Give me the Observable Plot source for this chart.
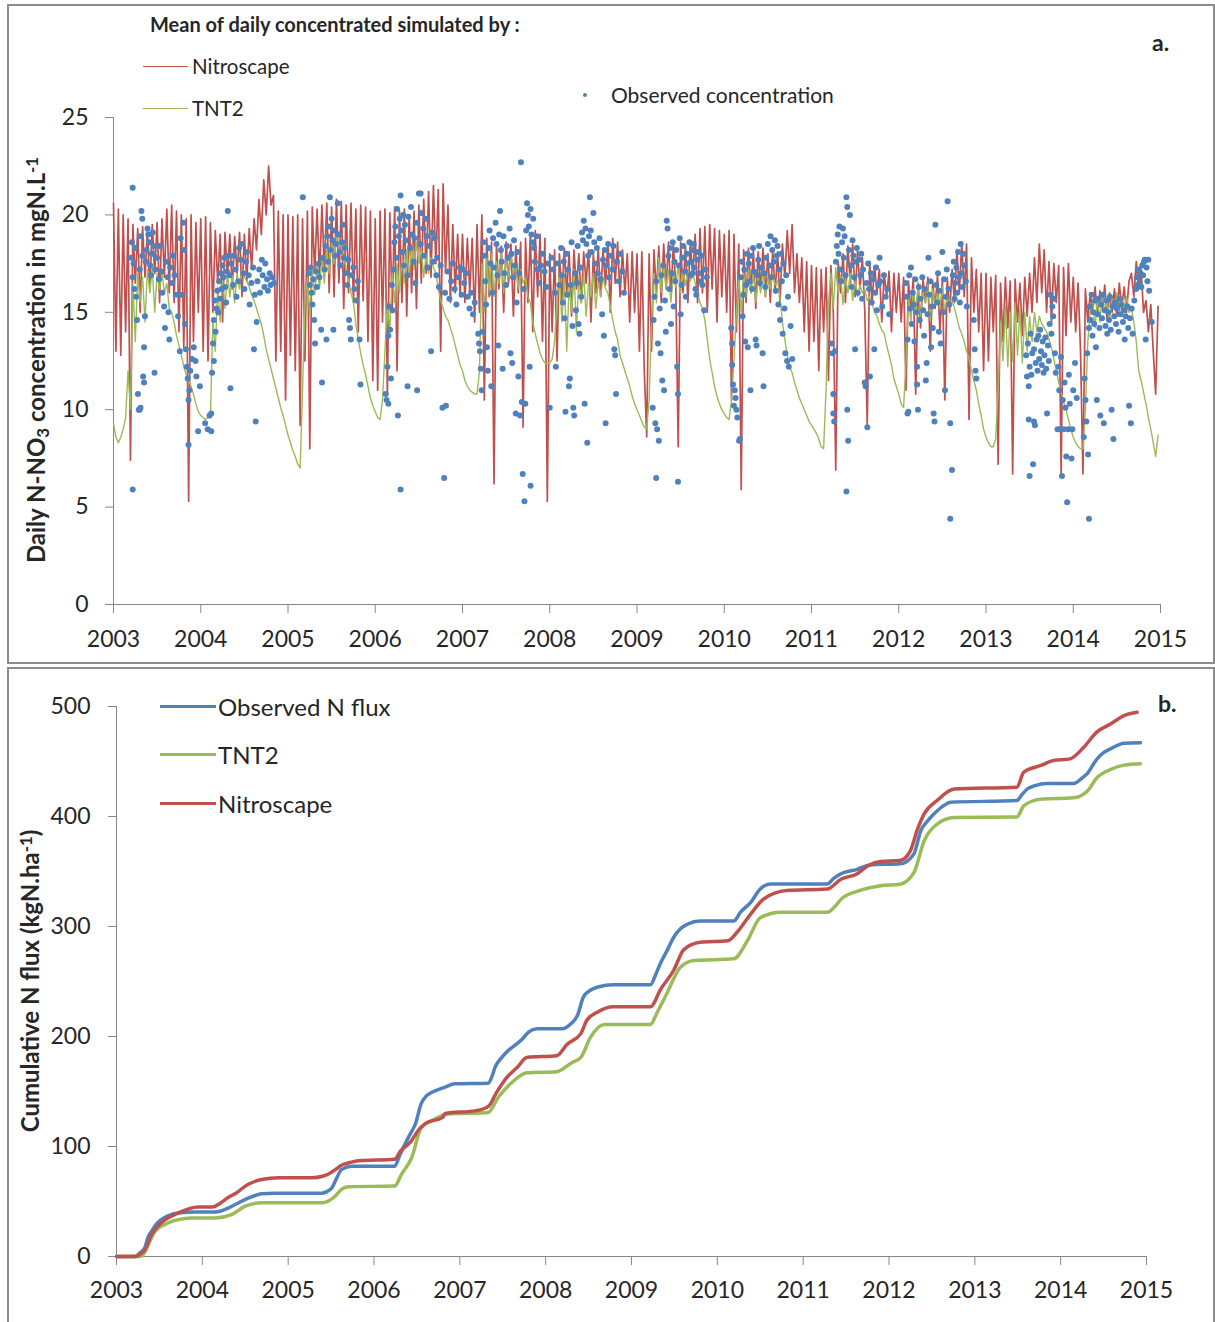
<!DOCTYPE html>
<html><head><meta charset="utf-8">
<script src="https://cdn.jsdelivr.net/npm/d3@7"></script>
<script src="https://cdn.jsdelivr.net/npm/@observablehq/plot@0.6"></script>
<style>
html,body{margin:0;padding:0;background:#fff;}
#page{position:relative;width:1215px;height:1322px;overflow:hidden;background:#fff;font-family:Lato,"Open Sans",sans-serif;color:#262626;}
.box{position:absolute;box-sizing:border-box;border:2px solid #8c8c8c;}
.abs{position:absolute;white-space:nowrap;line-height:1;transform:translateY(-50%);}
.sw{position:absolute;height:0;}
.ytitle{position:absolute;white-space:nowrap;font-weight:bold;font-size:24px;line-height:1;transform:translate(-50%,-50%) rotate(-90deg);}
.sub{font-size:0.7em;vertical-align:-0.25em;}
.sup{font-size:0.7em;vertical-align:0.45em;}
#pa,#pb{position:absolute;left:0;}
</style></head>
<body>
<div id="page">
  <div class="box" style="left:7px;top:4px;width:1208px;height:660px"></div>
  <div class="box" style="left:7px;top:667px;width:1208px;height:670px"></div>
  <div id="pa" style="top:0"></div>
  <div id="pb" style="top:668px"></div>

  <div class="abs" style="left:150px;top:24px;font-weight:bold;font-size:20px">Mean of daily concentrated simulated by :</div>
  <div class="sw" style="left:143px;top:66px;width:45px;border-top:1.5px solid #C0504D"></div>
  <div class="abs" style="left:192px;top:66px;font-size:20.5px">Nitroscape</div>
  <div class="sw" style="left:143px;top:108px;width:45px;border-top:1.5px solid #9BBB59"></div>
  <div class="abs" style="left:192px;top:108px;font-size:20.5px">TNT2</div>
  <div style="position:absolute;left:583px;top:93px;width:4px;height:4px;border-radius:2px;background:#4F81BD"></div>
  <div class="abs" style="left:611px;top:94px;font-size:21px">Observed concentration</div>
  <div class="abs" style="left:1152px;top:42px;font-weight:bold;font-size:23px">a.</div>
  <div class="ytitle" style="left:38px;top:360px">Daily N-NO<span class="sub">3</span> concentration in mgN.L<span class="sup">-1</span></div>

  <div class="sw" style="left:160px;top:705px;width:56px;border-top:3.5px solid #4F81BD"></div>
  <div class="abs" style="left:218px;top:707px;font-size:24px">Observed N flux</div>
  <div class="sw" style="left:160px;top:753px;width:56px;border-top:3.5px solid #9BBB59"></div>
  <div class="abs" style="left:218px;top:755px;font-size:24px">TNT2</div>
  <div class="sw" style="left:160px;top:802px;width:56px;border-top:3.5px solid #C0504D"></div>
  <div class="abs" style="left:218px;top:804px;font-size:24px">Nitroscape</div>
  <div class="abs" style="left:1158px;top:703px;font-weight:bold;font-size:23px">b.</div>
  <div class="ytitle" style="left:30px;top:981px">Cumulative N flux (kgN.ha<span class="sup">-1</span>)</div>
</div>
<script>
// ---------- Panel a: daily concentrations (values every ~10 days, 36 per year) ----------
const years = [2003,2004,2005,2006,2007,2008,2009,2010,2011,2012,2013,2014];
const xTicks = [2003,2004,2005,2006,2007,2008,2009,2010,2011,2012,2013,2014,2015];
const yTicksA = [0,5,10,15,20,25];
const yTicksB = [0,100,200,300,400,500];

const nitro2003 = [20.6,13.0,20.3,12.8,20.0,14.0,19.8,7.4,19.5,16.5,19.3,15.0,19.4,16.8,19.2,16.2,19.5,17.0,19.6,15.5,19.8,16.8,20.3,16.0,20.5,15.5,20.2,14.0,20.0,13.2,19.8,5.3,20.0,13.5,19.6,15.0];
const nitro2004 = [19.8,13.0,19.9,12.5,19.6,15.0,19.2,16.5,19.0,14.5,19.1,16.8,19.0,16.2,18.9,17.0,19.1,15.8,19.0,16.6,19.3,17.2,19.8,18.2,20.8,19.0,21.8,20.0,22.5,20.5,21.0,12.5,20.2,13.0,20.0,10.5];
const nitro2005 = [20.0,12.8,19.9,12.0,20.0,9.2,19.8,12.5,20.2,8.0,20.4,17.0,20.3,16.8,20.5,17.2,20.6,16.0,20.4,15.8,20.8,16.5,20.7,15.2,20.5,16.0,20.6,15.5,20.3,14.0,20.5,15.6,20.4,13.5,20.2,11.5];
const nitro2006 = [19.8,11.0,20.2,14.5,20.3,10.8,20.1,15.0,20.4,12.0,20.2,15.5,20.3,14.8,20.0,16.0,20.2,15.2,20.5,16.5,20.8,17.0,21.2,16.8,21.5,17.5,21.3,13.0,21.6,17.0,20.5,15.5,19.5,16.0,19.0,15.8];
const nitro2007 = [19.0,15.5,18.8,16.0,18.8,14.5,19.5,15.0,20.0,10.5,18.8,15.8,18.6,6.2,18.5,16.2,18.4,15.0,18.6,16.5,18.5,14.8,18.4,16.0,18.6,9.1,18.8,15.5,19.0,14.0,19.2,15.8,19.0,13.5,18.8,5.3];
const nitro2008 = [18.0,14.0,18.2,12.5,18.0,15.5,18.3,16.0,18.1,14.8,18.2,16.2,18.0,15.5,18.1,16.5,18.2,14.5,18.0,16.0,18.3,15.8,18.2,16.4,18.6,15.0,18.8,16.5,18.6,15.8,18.2,16.0,18.0,14.5,18.1,15.0];
const nitro2009 = [18.0,13.0,18.1,12.0,8.6,18.0,13.0,18.2,16.0,18.4,15.5,18.5,16.2,18.6,15.8,18.5,16.4,8.1,18.6,16.0,18.4,15.5,18.6,16.8,19.0,15.5,19.3,16.0,19.4,15.0,19.5,16.2,19.3,14.5,19.2,15.8];
const nitro2010 = [19.0,15.0,19.2,10.5,19.0,14.0,18.5,5.9,18.2,15.5,18.3,16.0,18.2,15.2,18.1,16.2,18.3,15.8,18.0,15.5,18.2,16.0,18.1,15.4,18.5,16.8,19.2,17.0,19.5,16.0,18.0,15.5,17.8,14.0,17.6,13.0];
const nitro2011 = [17.4,13.5,17.3,12.0,17.2,14.0,17.3,11.5,17.4,15.0,6.9,17.6,16.0,18.0,15.5,18.4,16.5,18.5,15.8,18.2,16.2,17.8,15.0,9.2,17.6,15.5,17.4,16.0,17.2,14.5,17.0,15.8,17.1,14.0,17.0,15.0];
const nitro2012 = [17.0,14.5,16.8,11.0,16.6,15.0,16.8,10.8,16.5,14.2,16.7,15.5,16.8,13.0,16.6,15.2,16.9,14.0,16.7,10.5,16.8,15.0,17.2,15.5,18.2,16.0,18.6,15.8,18.5,9.5,17.8,15.0,17.2,14.0,17.0,12.0];
const nitro2013 = [17.0,12.5,16.8,14.0,16.9,7.2,16.5,13.5,16.8,14.2,16.6,6.7,16.7,14.5,16.5,13.8,16.8,14.8,17.0,15.0,17.8,15.5,18.5,16.0,18.2,15.0,17.6,14.5,17.5,15.5,17.4,6.7,17.3,13.8,17.5,14.5];
const nitro2014 = [16.8,14.0,16.5,13.0,6.7,16.2,14.5,16.0,15.0,16.3,14.8,16.1,15.2,16.4,14.6,16.0,15.0,16.2,14.8,16.5,15.2,16.3,15.0,16.6,17.0,15.8,17.6,16.2,17.2,15.0,15.6,14.0,15.4,13.0,10.8,15.3];

const tnt2003 = [9.3,8.6,8.3,8.6,9.0,9.6,12.0,10.0,16.5,13.5,17.0,15.5,16.8,14.5,17.2,16.0,17.3,15.0,17.0,16.2,17.0,16.0,16.5,15.2,15.0,14.5,13.8,13.3,12.8,12.2,11.8,11.5,11.2,10.8,10.3,9.9];
const tnt2004 = [9.7,9.6,9.5,9.6,9.6,14.6,13.0,16.3,14.5,16.8,15.2,17.0,15.8,16.9,15.5,17.0,16.2,17.2,16.8,16.6,16.3,15.9,15.6,15.2,14.8,14.4,13.8,13.1,12.6,12.1,11.6,11.1,10.6,10.1,9.7,9.2];
const tnt2005 = [8.7,8.3,7.9,7.6,7.2,7.0,11.0,15.5,16.8,14.8,17.2,15.9,17.5,16.2,17.8,16.5,18.2,17.0,18.6,17.5,19.0,18.3,18.8,17.8,17.3,16.6,16.0,15.5,14.4,13.6,12.9,12.3,11.8,11.2,10.6,10.2];
const tnt2006 = [9.9,9.6,9.5,10.5,13.0,15.5,14.0,17.0,15.5,17.5,16.0,17.8,16.5,18.2,16.8,18.5,17.2,18.6,17.5,18.3,16.8,18.0,17.0,17.8,17.3,17.0,16.2,15.6,15.2,14.8,14.6,14.2,13.8,13.3,12.8,12.3];
const tnt2007 = [12.0,11.5,11.2,11.0,10.9,10.8,10.8,12.0,17.5,15.0,17.8,16.0,18.0,15.8,17.6,16.5,18.2,16.0,17.8,16.8,18.0,17.0,17.5,16.2,17.2,16.5,16.8,15.8,15.5,14.5,13.9,13.4,12.9,12.6,12.4,12.4];
const tnt2008 = [12.4,12.6,13.5,15.5,17.0,14.5,16.8,13.0,16.5,15.0,17.2,14.0,16.8,15.5,17.0,14.8,16.5,15.8,17.0,15.2,16.6,15.8,16.8,16.2,16.0,15.3,14.6,14.0,13.6,12.8,12.4,12.0,11.6,11.2,10.7,10.3];
const tnt2009 = [10.0,9.7,9.4,9.1,9.0,10.5,14.5,17.0,15.5,17.8,16.0,17.5,16.2,17.2,15.5,17.0,16.3,17.4,16.0,17.0,16.4,17.2,16.6,17.0,16.5,16.0,15.5,15.2,14.6,13.6,12.6,11.9,11.2,10.7,10.3,10.0];
const tnt2010 = [9.8,9.6,9.5,10.5,12.5,15.0,16.8,15.0,17.0,15.8,17.2,16.0,17.0,15.5,16.8,16.0,17.2,15.8,16.8,16.2,17.0,16.4,16.6,15.8,14.5,13.6,12.8,12.2,11.9,11.4,11.0,10.6,10.3,10.0,9.7,9.4];
const tnt2011 = [9.2,9.0,8.8,8.5,8.1,8.0,11.0,15.5,17.0,15.2,17.3,16.0,16.9,15.4,16.8,16.0,17.0,15.6,16.6,15.8,16.4,16.0,16.2,15.6,15.8,15.5,15.0,14.8,14.4,14.1,13.9,13.3,12.8,12.3,11.6,11.2];
const tnt2012 = [10.8,10.3,10.1,12.5,15.8,14.5,16.2,15.0,16.5,14.8,16.0,15.5,16.4,14.6,16.2,15.4,16.0,15.2,16.3,15.0,15.9,15.6,15.6,15.2,14.7,14.2,13.9,13.5,13.0,12.6,12.0,11.5,11.0,10.3,9.7,9.0];
const tnt2013 = [8.6,8.3,8.1,8.1,8.5,11.0,14.5,12.5,15.3,12.2,15.0,12.5,15.5,12.8,15.2,12.4,15.0,13.0,14.8,13.5,15.0,14.0,14.8,14.4,14.2,14.0,13.6,13.2,12.6,12.0,11.4,10.9,10.4,10.0,9.5,9.0];
const tnt2014 = [8.6,8.3,8.1,8.0,8.0,10.0,13.5,15.0,15.5,14.2,15.8,14.5,16.0,15.0,15.6,14.6,15.8,15.2,16.0,15.0,15.6,15.2,15.8,15.0,15.2,14.5,13.5,12.0,11.5,10.9,10.3,9.6,9.0,8.3,7.6,8.7];

// observed concentrations [decimal year, mgN/L]
const obs2003 = [[2003.20,17.8],[2003.21,18.6],[2003.22,21.4],[2003.22,5.9],[2003.22,16.8],[2003.23,17.5],[2003.24,16.2],[2003.25,18.3],[2003.26,15.8],[2003.27,14.6],[2003.28,10.8],[2003.29,10.0],[2003.30,10.0],[2003.31,10.1],[2003.30,17.2],[2003.31,18.9],[2003.32,20.2],[2003.33,19.8],[2003.33,17.9],[2003.34,11.7],[2003.35,11.4],[2003.35,13.2],[2003.36,14.8],[2003.37,17.6],[2003.38,18.2],[2003.39,19.3],[2003.40,19.0],[2003.41,18.6],[2003.42,17.4],[2003.43,16.9],[2003.44,18.0],[2003.45,19.1],[2003.46,18.4],[2003.47,11.9],[2003.48,17.2],[2003.50,17.8],[2003.52,16.7],[2003.53,18.4],[2003.55,17.1],[2003.56,16.0],[2003.58,15.3],[2003.59,14.2],[2003.60,17.6],[2003.62,16.8],[2003.63,15.0],[2003.64,13.6],[2003.65,17.3],[2003.67,16.5],[2003.68,17.9],[2003.70,16.9],[2003.72,15.9],[2003.74,14.8],[2003.76,13.0],[2003.77,18.8],[2003.78,15.9],[2003.80,19.6],[2003.81,18.2],[2003.82,14.4],[2003.83,13.1],[2003.84,12.2],[2003.85,11.6],[2003.86,8.2],[2003.86,10.5],[2003.87,11.0],[2003.88,12.0],[2003.90,12.6],[2003.92,13.2],[2003.94,12.5],[2003.95,11.7],[2003.97,8.9],[2003.99,11.2]];
const obs2004 = [[2004.05,9.3],[2004.08,9.0],[2004.10,9.7],[2004.12,8.9],[2004.12,9.8],[2004.13,11.9],[2004.14,13.4],[2004.15,14.6],[2004.15,12.5],[2004.16,15.6],[2004.17,14.0],[2004.18,15.2],[2004.19,16.1],[2004.20,15.0],[2004.21,16.6],[2004.22,15.7],[2004.23,17.0],[2004.24,16.2],[2004.25,17.4],[2004.26,16.8],[2004.27,17.8],[2004.28,16.3],[2004.29,15.5],[2004.30,17.1],[2004.31,20.2],[2004.32,17.9],[2004.33,16.9],[2004.34,11.1],[2004.35,17.5],[2004.37,16.4],[2004.38,17.9],[2004.40,17.2],[2004.41,15.8],[2004.43,16.6],[2004.44,18.3],[2004.46,17.7],[2004.47,18.5],[2004.49,17.0],[2004.50,16.2],[2004.52,17.6],[2004.53,18.1],[2004.55,16.9],[2004.56,15.4],[2004.58,16.5],[2004.60,17.3],[2004.61,13.1],[2004.62,15.9],[2004.63,9.4],[2004.64,14.5],[2004.65,16.6],[2004.67,17.2],[2004.68,16.0],[2004.70,17.7],[2004.71,16.9],[2004.73,16.3],[2004.74,17.5],[2004.76,16.7],[2004.77,16.1],[2004.79,17.0],[2004.80,16.4],[2004.82,16.8],[2004.84,16.5]];
const obs2005 = [[2005.17,20.9],[2005.24,17.0],[2005.25,16.4],[2005.26,17.3],[2005.27,16.0],[2005.28,15.4],[2005.29,16.7],[2005.30,14.6],[2005.31,13.4],[2005.32,17.1],[2005.33,16.3],[2005.35,17.5],[2005.36,16.8],[2005.38,14.1],[2005.39,11.4],[2005.40,17.8],[2005.42,17.2],[2005.43,18.4],[2005.44,13.6],[2005.45,18.9],[2005.46,17.6],[2005.47,19.4],[2005.48,20.9],[2005.49,18.2],[2005.50,19.8],[2005.51,18.7],[2005.52,14.1],[2005.53,19.2],[2005.54,17.9],[2005.55,18.5],[2005.57,20.6],[2005.58,19.0],[2005.59,18.1],[2005.60,17.4],[2005.62,18.6],[2005.63,19.5],[2005.64,17.8],[2005.65,18.3],[2005.66,17.0],[2005.68,16.4],[2005.69,17.7],[2005.70,14.6],[2005.71,14.2],[2005.72,13.6],[2005.73,16.9],[2005.75,17.3],[2005.76,16.2],[2005.78,15.6],[2005.80,16.6],[2005.82,13.6],[2005.83,11.3]];
const obs2006 = [[2006.12,10.8],[2006.13,10.5],[2006.14,12.2],[2006.15,13.8],[2006.15,10.3],[2006.16,15.3],[2006.17,14.1],[2006.18,11.6],[2006.19,16.4],[2006.20,15.1],[2006.21,17.2],[2006.22,18.6],[2006.23,19.4],[2006.24,17.8],[2006.25,20.3],[2006.26,9.7],[2006.27,18.9],[2006.28,19.8],[2006.29,21.0],[2006.29,5.9],[2006.30,19.2],[2006.31,18.1],[2006.32,20.0],[2006.33,17.4],[2006.34,19.5],[2006.35,18.7],[2006.37,11.2],[2006.37,16.9],[2006.38,19.9],[2006.40,18.3],[2006.41,20.4],[2006.42,19.0],[2006.44,17.6],[2006.45,18.8],[2006.46,16.5],[2006.48,11.0],[2006.48,19.6],[2006.50,21.1],[2006.52,21.1],[2006.52,18.5],[2006.53,20.1],[2006.55,19.3],[2006.56,17.9],[2006.58,19.8],[2006.59,18.9],[2006.60,17.3],[2006.62,18.4],[2006.64,13.0],[2006.65,19.1],[2006.66,17.6],[2006.68,18.8],[2006.70,16.9],[2006.71,17.8],[2006.73,16.3],[2006.75,17.4],[2006.77,10.1],[2006.79,6.5],[2006.80,16.0],[2006.81,10.2],[2006.83,17.1],[2006.85,15.7],[2006.87,16.6],[2006.89,17.5],[2006.91,16.2],[2006.93,15.4],[2006.95,16.8],[2006.97,17.3],[2006.99,15.9]];
const obs2007 = [[2007.00,17.2],[2007.02,16.5],[2007.04,17.0],[2007.06,15.8],[2007.08,15.2],[2007.10,16.0],[2007.12,14.9],[2007.14,15.5],[2007.18,13.9],[2007.19,13.4],[2007.20,13.0],[2007.21,12.1],[2007.22,11.0],[2007.23,14.0],[2007.24,18.6],[2007.25,17.9],[2007.26,16.6],[2007.27,15.4],[2007.28,13.2],[2007.29,12.0],[2007.30,18.3],[2007.31,19.2],[2007.32,17.5],[2007.33,11.2],[2007.34,16.0],[2007.35,18.8],[2007.36,17.3],[2007.38,19.6],[2007.39,18.5],[2007.40,16.9],[2007.41,13.3],[2007.42,19.0],[2007.43,20.2],[2007.44,18.2],[2007.45,17.6],[2007.46,12.1],[2007.47,18.9],[2007.48,17.0],[2007.50,16.4],[2007.51,18.4],[2007.52,17.8],[2007.54,19.3],[2007.55,12.9],[2007.56,18.0],[2007.57,12.4],[2007.58,16.8],[2007.59,18.7],[2007.60,17.4],[2007.61,9.8],[2007.62,15.5],[2007.63,18.1],[2007.64,11.7],[2007.65,17.0],[2007.66,9.7],[2007.67,22.7],[2007.68,10.4],[2007.69,6.7],[2007.70,16.2],[2007.71,5.3],[2007.72,10.3],[2007.73,19.2],[2007.74,20.6],[2007.75,20.0],[2007.76,19.4],[2007.77,12.2],[2007.78,6.1],[2007.78,20.3],[2007.79,19.0],[2007.80,18.6],[2007.81,19.8],[2007.82,18.3],[2007.83,17.6],[2007.85,18.9],[2007.86,17.2],[2007.88,16.5],[2007.90,17.4],[2007.92,18.0],[2007.94,17.1],[2007.96,16.3],[2007.98,17.5],[2008.00,10.1]];
const obs2008 = [[2008.02,17.8],[2008.04,17.2],[2008.06,16.0],[2008.07,12.2],[2008.09,17.5],[2008.11,16.4],[2008.13,18.3],[2008.14,16.9],[2008.15,15.5],[2008.16,17.6],[2008.17,14.7],[2008.18,9.9],[2008.19,18.0],[2008.20,15.9],[2008.21,17.2],[2008.22,11.2],[2008.23,11.6],[2008.24,16.4],[2008.25,18.6],[2008.26,14.3],[2008.27,10.1],[2008.28,9.7],[2008.29,17.0],[2008.30,15.1],[2008.31,16.5],[2008.32,18.4],[2008.33,14.4],[2008.34,13.9],[2008.35,17.3],[2008.36,15.8],[2008.37,19.1],[2008.38,18.7],[2008.39,19.7],[2008.40,10.3],[2008.41,19.3],[2008.42,18.5],[2008.43,8.3],[2008.44,17.9],[2008.45,18.9],[2008.46,20.9],[2008.47,19.2],[2008.48,18.1],[2008.50,20.1],[2008.51,18.6],[2008.52,17.5],[2008.54,18.3],[2008.55,17.0],[2008.57,18.8],[2008.58,16.7],[2008.60,14.9],[2008.61,17.7],[2008.62,13.8],[2008.63,18.2],[2008.64,9.3],[2008.65,17.4],[2008.67,18.5],[2008.68,16.8],[2008.70,17.9],[2008.72,17.2],[2008.73,18.4],[2008.74,13.1],[2008.75,12.8],[2008.76,10.8],[2008.77,17.6],[2008.79,16.6],[2008.81,18.0],[2008.83,17.1],[2008.85,16.0]];
const obs2009 = [[2009.18,10.1],[2009.19,14.6],[2009.20,15.8],[2009.21,9.3],[2009.22,6.5],[2009.22,16.6],[2009.23,9.0],[2009.24,13.4],[2009.25,8.4],[2009.26,15.2],[2009.27,12.9],[2009.28,16.9],[2009.29,11.5],[2009.30,17.4],[2009.31,11.0],[2009.32,15.6],[2009.33,14.0],[2009.34,19.7],[2009.35,19.3],[2009.36,17.9],[2009.37,16.2],[2009.38,18.3],[2009.39,14.4],[2009.40,17.0],[2009.41,18.6],[2009.42,15.3],[2009.43,17.6],[2009.44,16.6],[2009.45,18.2],[2009.46,12.2],[2009.47,6.3],[2009.47,10.8],[2009.48,17.4],[2009.49,18.8],[2009.50,14.9],[2009.51,16.4],[2009.52,17.8],[2009.53,18.4],[2009.55,17.1],[2009.56,15.8],[2009.57,18.0],[2009.58,17.5],[2009.60,18.6],[2009.61,16.9],[2009.62,17.6],[2009.63,18.2],[2009.64,17.0],[2009.65,18.5],[2009.66,17.3],[2009.67,16.2],[2009.68,15.9],[2009.69,17.7],[2009.70,18.1],[2009.72,17.0],[2009.73,16.6],[2009.74,17.9],[2009.75,16.4],[2009.77,15.1],[2009.78,17.2],[2009.80,16.8]];
const obs2010 = [[2010.08,14.2],[2010.09,13.4],[2010.09,12.3],[2010.10,11.3],[2010.11,10.2],[2010.12,11.0],[2010.13,10.6],[2010.14,10.0],[2010.15,9.6],[2010.17,8.4],[2010.18,8.5],[2010.19,16.8],[2010.20,17.6],[2010.21,14.8],[2010.22,15.9],[2010.23,17.2],[2010.24,13.5],[2010.25,16.4],[2010.26,18.0],[2010.27,13.2],[2010.28,17.5],[2010.29,16.6],[2010.30,11.0],[2010.31,17.9],[2010.32,16.2],[2010.33,18.3],[2010.34,17.1],[2010.36,13.6],[2010.37,13.3],[2010.38,16.9],[2010.39,17.7],[2010.40,18.4],[2010.41,16.5],[2010.42,17.3],[2010.44,12.9],[2010.45,11.2],[2010.46,17.0],[2010.47,16.3],[2010.48,17.8],[2010.50,18.5],[2010.52,17.4],[2010.53,18.9],[2010.54,16.8],[2010.55,18.2],[2010.57,17.6],[2010.58,18.7],[2010.59,16.1],[2010.60,17.9],[2010.61,18.4],[2010.62,15.4],[2010.63,17.2],[2010.64,14.6],[2010.65,18.0],[2010.66,16.6],[2010.67,13.9],[2010.68,17.5],[2010.69,15.2],[2010.70,12.9],[2010.71,16.9],[2010.72,12.5],[2010.73,15.8],[2010.74,12.2],[2010.76,14.3],[2010.78,12.6]];
const obs2011 = [[2011.23,13.4],[2011.24,12.9],[2011.25,10.8],[2011.25,9.8],[2011.26,9.4],[2011.27,13.0],[2011.28,17.6],[2011.29,18.4],[2011.30,19.0],[2011.31,18.0],[2011.32,19.4],[2011.33,17.2],[2011.34,16.6],[2011.35,18.6],[2011.36,19.3],[2011.37,17.8],[2011.38,18.9],[2011.39,16.9],[2011.40,20.9],[2011.40,5.8],[2011.41,20.4],[2011.41,10.0],[2011.42,8.4],[2011.43,18.2],[2011.44,20.0],[2011.45,17.4],[2011.46,16.3],[2011.47,18.7],[2011.48,17.9],[2011.49,16.8],[2011.50,13.1],[2011.51,17.6],[2011.52,18.3],[2011.53,16.0],[2011.55,17.7],[2011.56,16.9],[2011.57,18.0],[2011.58,15.7],[2011.59,17.2],[2011.61,11.4],[2011.62,11.2],[2011.63,16.5],[2011.64,9.1],[2011.65,17.5],[2011.66,16.2],[2011.67,11.7],[2011.68,17.0],[2011.69,15.5],[2011.70,16.7],[2011.72,13.1],[2011.73,16.0],[2011.74,17.3],[2011.75,15.1],[2011.77,16.4],[2011.78,17.8],[2011.79,16.6],[2011.81,15.3],[2011.83,16.9],[2011.85,15.8],[2011.87,16.2],[2011.89,14.9]];
const obs2012 = [[2012.08,16.5],[2012.09,15.8],[2012.10,13.6],[2012.10,9.8],[2012.11,9.9],[2012.12,16.9],[2012.13,15.2],[2012.14,17.3],[2012.15,14.4],[2012.16,16.0],[2012.17,15.4],[2012.18,13.5],[2012.19,16.7],[2012.20,15.0],[2012.21,12.2],[2012.21,11.3],[2012.22,10.0],[2012.23,16.3],[2012.24,14.6],[2012.25,15.7],[2012.27,16.8],[2012.28,15.1],[2012.29,13.8],[2012.30,16.2],[2012.31,11.5],[2012.32,12.4],[2012.33,14.9],[2012.34,17.8],[2012.35,15.9],[2012.36,16.6],[2012.37,13.2],[2012.38,15.3],[2012.39,14.2],[2012.40,9.8],[2012.41,9.4],[2012.42,19.5],[2012.43,16.4],[2012.44,15.5],[2012.45,17.0],[2012.46,14.0],[2012.47,16.1],[2012.48,13.4],[2012.50,18.1],[2012.51,15.0],[2012.52,16.7],[2012.53,11.0],[2012.54,15.8],[2012.55,17.2],[2012.56,20.7],[2012.57,16.2],[2012.58,15.4],[2012.59,9.3],[2012.59,4.4],[2012.61,6.9],[2012.62,16.9],[2012.63,17.6],[2012.64,15.7],[2012.65,16.5],[2012.66,17.3],[2012.67,16.0],[2012.68,18.1],[2012.69,16.8],[2012.70,15.5],[2012.71,18.5],[2012.72,17.0],[2012.73,16.3],[2012.74,18.0],[2012.75,17.4],[2012.77,16.6],[2012.78,15.3],[2012.86,14.6],[2012.87,13.1],[2012.88,12.0],[2012.89,11.6]];
const obs2013 = [[2013.46,12.8],[2013.47,11.7],[2013.48,13.4],[2013.49,11.2],[2013.49,9.5],[2013.50,6.6],[2013.50,12.2],[2013.51,13.9],[2013.52,11.8],[2013.53,12.9],[2013.54,7.2],[2013.55,9.4],[2013.55,13.1],[2013.56,9.2],[2013.57,12.4],[2013.58,13.6],[2013.59,12.0],[2013.60,13.8],[2013.61,12.6],[2013.62,14.1],[2013.63,13.0],[2013.64,12.3],[2013.65,13.5],[2013.66,11.9],[2013.67,12.8],[2013.68,13.7],[2013.69,12.1],[2013.70,9.8],[2013.71,13.3],[2013.72,12.5],[2013.73,14.4],[2013.74,15.9],[2013.75,13.9],[2013.76,15.3],[2013.77,14.8],[2013.78,15.7],[2013.79,12.9],[2013.80,11.9],[2013.82,9.0],[2013.83,12.2],[2013.84,11.0],[2013.85,9.0],[2013.86,12.7],[2013.87,6.6],[2013.88,10.5],[2013.89,9.0],[2013.90,11.4],[2013.91,10.1],[2013.92,7.6],[2013.93,5.25],[2013.94,9.0],[2013.95,11.8],[2013.96,10.3],[2013.98,7.5],[2013.99,9.0],[2014.00,11.0],[2014.02,12.4],[2014.04,10.6]];
const obs2014 = [[2014.12,8.6],[2014.13,11.6],[2014.14,10.5],[2014.15,9.4],[2014.16,12.9],[2014.17,7.7],[2014.18,4.4],[2014.18,14.2],[2014.19,15.3],[2014.20,14.6],[2014.21,15.9],[2014.22,13.8],[2014.23,15.0],[2014.24,14.4],[2014.25,15.6],[2014.26,13.2],[2014.27,10.5],[2014.28,14.9],[2014.29,15.7],[2014.30,14.2],[2014.31,9.7],[2014.32,15.4],[2014.33,14.7],[2014.34,15.9],[2014.35,9.3],[2014.36,15.1],[2014.37,14.3],[2014.38,15.6],[2014.39,13.9],[2014.40,15.0],[2014.41,14.6],[2014.42,15.8],[2014.43,14.1],[2014.44,10.0],[2014.45,15.3],[2014.46,8.5],[2014.47,14.8],[2014.48,15.5],[2014.49,14.4],[2014.50,15.2],[2014.52,14.0],[2014.53,15.7],[2014.54,14.9],[2014.55,15.4],[2014.57,14.5],[2014.58,15.1],[2014.59,13.6],[2014.60,14.8],[2014.62,15.3],[2014.63,14.2],[2014.64,10.2],[2014.65,14.7],[2014.66,9.3],[2014.67,15.2],[2014.68,13.9],[2014.70,15.6],[2014.72,16.2],[2014.73,16.8],[2014.74,16.4],[2014.75,17.2],[2014.76,16.5],[2014.77,17.0],[2014.78,16.3],[2014.79,17.4],[2014.80,16.9],[2014.81,17.6],[2014.82,17.7],[2014.83,13.6],[2014.84,17.3],[2014.85,16.6],[2014.86,17.7],[2014.87,16.1],[2014.90,14.5]];

// ---------- Panel b: cumulative N flux [decimal year, kgN/ha] ----------
const fluxObserved = [[2003.00,0],[2003.21,0],[2003.27,3],[2003.33,8],[2003.37,18],[2003.41,23],[2003.46,29],[2003.52,33.5],[2003.60,37],[2003.72,39.6],[2003.91,40.5],[2004.15,40.5],[2004.30,44],[2004.40,48],[2004.50,52],[2004.60,55],[2004.69,57],[2004.85,57.5],[2005.39,57.5],[2005.45,59],[2005.51,62.5],[2005.57,72],[2005.62,79],[2005.74,82],[2006.24,82],[2006.30,92],[2006.36,102],[2006.42,111],[2006.48,120],[2006.55,139],[2006.61,146],[2006.67,149],[2006.83,154],[2006.94,157],[2007.33,157.6],[2007.38,165],[2007.41,172],[2007.49,181],[2007.56,187],[2007.64,192],[2007.72,197],[2007.80,204],[2007.90,207],[2008.19,207],[2008.30,212],[2008.37,219],[2008.44,236],[2008.52,242],[2008.61,245],[2008.79,247],[2009.22,247],[2009.28,256],[2009.34,267],[2009.42,279],[2009.49,290],[2009.57,298],[2009.65,302],[2009.80,305],[2010.19,305],[2010.27,313],[2010.39,322],[2010.50,334],[2010.62,338.6],[2011.28,338.6],[2011.36,344],[2011.44,348],[2011.63,352],[2011.78,356],[2012.13,357],[2012.29,366],[2012.37,387],[2012.45,396],[2012.52,402],[2012.62,409],[2012.72,413],[2013.49,414.5],[2013.55,420],[2013.61,425],[2013.70,428],[2013.84,430],[2014.15,430],[2014.25,435],[2014.31,439],[2014.42,452],[2014.50,458],[2014.58,461.5],[2014.74,466.7],[2014.93,467]];
const fluxTNT2 = [[2003.00,0],[2003.27,0],[2003.33,4],[2003.37,10.7],[2003.45,23],[2003.56,29],[2003.72,33.5],[2003.87,35],[2004.15,35],[2004.34,38],[2004.50,45.7],[2004.69,48.8],[2005.39,48.8],[2005.55,55],[2005.62,61],[2005.70,63.5],[2006.24,64],[2006.32,74.7],[2006.44,90],[2006.55,117],[2006.67,123.5],[2006.86,129.6],[2007.33,131],[2007.45,145],[2007.59,157],[2007.78,167],[2008.13,168],[2008.30,176],[2008.41,181],[2008.52,199],[2008.68,211],[2009.22,211],[2009.30,222],[2009.41,238.8],[2009.57,263],[2009.73,269],[2010.19,270.6],[2010.35,287],[2010.50,308],[2010.74,313],[2011.28,313],[2011.47,326.7],[2011.67,333],[2011.90,337],[2012.13,338.5],[2012.29,349],[2012.41,378],[2012.56,393],[2012.76,399],[2013.49,399.5],[2013.57,409.7],[2013.77,415.8],[2014.15,417],[2014.31,423],[2014.42,435],[2014.58,442.7],[2014.74,446.7],[2014.93,447.9]];
const fluxNitroscape = [[2003.00,0],[2003.23,0],[2003.29,3],[2003.33,6],[2003.41,20],[2003.52,30.5],[2003.72,39.6],[2003.95,45],[2004.12,45],[2004.20,48],[2004.30,53.6],[2004.40,58],[2004.50,64],[2004.69,70],[2004.89,71.6],[2005.28,71.6],[2005.40,73],[2005.47,75],[2005.55,79],[2005.62,83],[2005.70,85],[2005.82,87],[2006.24,88.4],[2006.31,96],[2006.42,103.7],[2006.53,116],[2006.60,121],[2006.80,126.5],[2006.83,130],[2007.19,132.6],[2007.34,137],[2007.42,148],[2007.55,163],[2007.67,172],[2007.78,181],[2008.13,182.6],[2008.25,193],[2008.41,202.6],[2008.48,214.8],[2008.60,222],[2008.79,227],[2009.22,227],[2009.34,243],[2009.49,260],[2009.61,279],[2009.80,285.6],[2010.12,287],[2010.23,294.8],[2010.39,311.5],[2010.54,325],[2010.81,332.7],[2011.28,334],[2011.44,343],[2011.63,348],[2011.75,355],[2011.90,359],[2012.13,360],[2012.25,369],[2012.33,388],[2012.41,402.4],[2012.56,414.5],[2012.76,425],[2013.49,426.7],[2013.57,440.3],[2013.77,446.4],[2013.92,451],[2014.11,452.4],[2014.27,463],[2014.42,476.7],[2014.58,484],[2014.74,491.8],[2014.89,494.8]];

// ---------- build tables ----------
const RED = "#C0504D", GREEN = "#9BBB59", BLUE = "#4F81BD", AXIS = "#868686", TXT = "#262626";
function yearly(list) {
  const out = [];
  list.forEach((arr, k) => arr.forEach((v, i) => out.push({t: years[k] + i / arr.length, v})));
  return out;
}
const nitroDaily = yearly([nitro2003,nitro2004,nitro2005,nitro2006,nitro2007,nitro2008,nitro2009,nitro2010,nitro2011,nitro2012,nitro2013,nitro2014]);
const tntDaily = yearly([tnt2003,tnt2004,tnt2005,tnt2006,tnt2007,tnt2008,tnt2009,tnt2010,tnt2011,tnt2012,tnt2013,tnt2014]);
const observed = [obs2003,obs2004,obs2005,obs2006,obs2007,obs2008,obs2009,obs2010,obs2011,obs2012,obs2013,obs2014].flat().map(([t, v]) => ({t, v}));
const pairs = a => a.map(([t, v]) => ({t, v}));

const fontStyle = {fontFamily: "Lato, 'Open Sans', sans-serif", fontSize: "23px", color: TXT, background: "transparent", overflow: "visible"};
const fmt = d => String(d);

const chartA = Plot.plot({
  width: 1215, height: 660,
  marginLeft: 113, marginRight: 55, marginTop: 117, marginBottom: 56,
  x: {domain: [2003, 2015]},
  y: {domain: [0, 25]},
  style: fontStyle,
  marks: [
    Plot.ruleY([0], {stroke: AXIS}),
    Plot.ruleX([2003], {stroke: AXIS}),
    Plot.axisX({ticks: xTicks, tickFormat: fmt, tickSize: 9, tickPadding: 17, stroke: AXIS, fill: TXT, fontSize: 23, label: null}),
    Plot.axisY({ticks: yTicksA, tickFormat: fmt, tickSize: 8, tickPadding: 17, stroke: AXIS, fill: TXT, fontSize: 23, label: null}),
    Plot.line(nitroDaily, {x: "t", y: "v", stroke: RED, strokeWidth: 1.7}),
    Plot.line(tntDaily, {x: "t", y: "v", stroke: GREEN, strokeWidth: 1.4}),
    Plot.dot(observed, {x: "t", y: "v", r: 3, fill: BLUE, stroke: "none"})
  ]
});
document.getElementById("pa").append(chartA);

const chartB = Plot.plot({
  width: 1215, height: 654,
  marginLeft: 116, marginRight: 69, marginTop: 38, marginBottom: 66,
  x: {domain: [2003, 2015]},
  y: {domain: [0, 500]},
  style: fontStyle,
  marks: [
    Plot.ruleY([0], {stroke: AXIS}),
    Plot.ruleX([2003], {stroke: AXIS}),
    Plot.axisX({ticks: xTicks, tickFormat: fmt, tickSize: 9, tickPadding: 16, stroke: AXIS, fill: TXT, fontSize: 23, label: null}),
    Plot.axisY({ticks: yTicksB, tickFormat: fmt, tickSize: 8, tickPadding: 18, stroke: AXIS, fill: TXT, fontSize: 23, label: null}),
    Plot.line(pairs(fluxObserved), {x: "t", y: "v", stroke: BLUE, strokeWidth: 3.5, curve: "monotone-x"}),
    Plot.line(pairs(fluxTNT2), {x: "t", y: "v", stroke: GREEN, strokeWidth: 3.5, curve: "monotone-x"}),
    Plot.line(pairs(fluxNitroscape), {x: "t", y: "v", stroke: RED, strokeWidth: 3.5, curve: "monotone-x"})
  ]
});
document.getElementById("pb").append(chartB);
</script>
</body></html>
